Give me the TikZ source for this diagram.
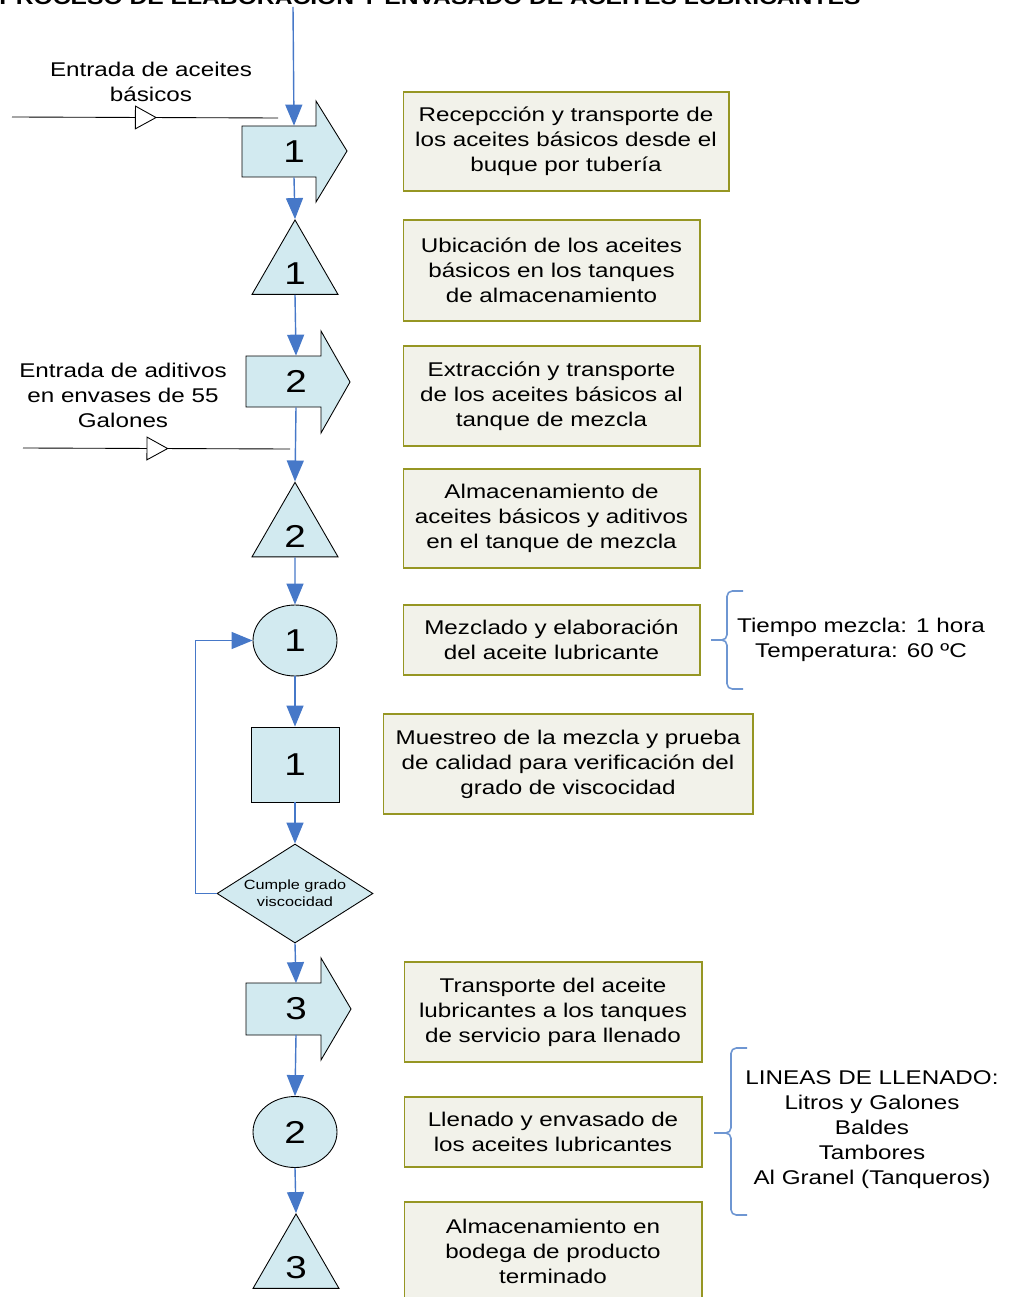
\documentclass[tikz,border=0pt]{standalone}
\usepackage{fontspec}
\setmainfont{Liberation Sans}[FakeStretch=1.22]
\usepackage{tikz}
\usetikzlibrary{shapes.geometric,arrows.meta,decorations.markings}
\usepackage{xcolor}
\definecolor{symbolfill}{RGB}{210,234,240}
\definecolor{flowblue}{RGB}{70,120,200}
\definecolor{boxfill}{RGB}{242,242,234}
\definecolor{boxline}{RGB}{150,150,35}
\definecolor{bracecol}{RGB}{110,150,210}
\pgfkeys{tikz/symbol/.style={draw=black,fill=symbolfill,line width=0.5pt,inner sep=0pt,font=\fontsize{18}{20}\selectfont}}
\pgfkeys{tikz/storage/.style={symbol,regular polygon,regular polygon sides=3,minimum size=1.986cm,text height=17.4pt}}
\pgfkeys{tikz/arrowlabel/.style={inner sep=0pt,font=\fontsize{18}{20}\selectfont,minimum width=2.1cm,minimum height=1.02cm}}
\pgfkeys{tikz/flow/.style={draw=flowblue,line width=0.8pt,-{Triangle[length=0.42cm,width=0.34cm]}}}
\pgfkeys{tikz/procbox/.style={draw=boxline,fill=boxfill,line width=0.6pt,align=center,inner sep=0pt,minimum width=5.94cm,font=\fontsize{11.3}{14.2}\selectfont}}
\pgfkeys{tikz/sidetext/.style={align=center,inner sep=0pt,font=\fontsize{11.3}{14.2}\selectfont}}
\pgfkeys{tikz/inflow/.style={draw=black,line width=0.5pt,decoration={markings,mark=at position 0.545 with {\arrow{Triangle[length=0.44cm,width=0.48cm,fill=white,line width=0.5pt]}}},postaction={decorate}}}
\pgfkeys{tikz/bracket/.style={draw=bracecol,line width=0.9pt,rounded corners=3pt}}

\begin{document}
\begin{tikzpicture}[x=0.02cm,y=-0.02cm]

	\useasboundingbox (0,0) rectangle (1013,1297);

	\node[font=\bfseries\fontsize{11.5}{13}\selectfont, anchor=base] (title) at (430,5) {PROCESO DE ELABORACIÓN Y ENVASADO DE ACEITES LUBRICANTES};

	% block arrows (transporte)
	\draw[symbol] (242,126) -- (316,126) -- (316,101) -- (347,151) -- (316,202) -- (316,177) -- (242,177) -- cycle;
	\node[arrowlabel] (p1) at (294,151.5) {1};

	\draw[symbol] (246,356) -- (321,356) -- (321,331) -- (350,382) -- (321,433) -- (321,407) -- (246,407) -- cycle;
	\node[arrowlabel] (p2) at (296,381.5) {2};

	\draw[symbol] (246,983) -- (321,983) -- (321,958) -- (351,1009) -- (321,1060) -- (321,1035) -- (246,1035) -- cycle;
	\node[arrowlabel] (p3) at (296,1009) {3};

	% storage, operation, inspection, decision
	\node[storage] (t1) at (295,269.6) {1};
	\node[storage] (t2) at (295,532) {2};
	\node[storage] (t3) at (296,1263.6) {3};

	\node[symbol, ellipse, minimum width=1.68cm, minimum height=1.42cm] (c1) at (295,640.5) {1};
	\node[symbol, ellipse, minimum width=1.68cm, minimum height=1.42cm] (c2) at (295,1132) {2};

	\node[symbol, rectangle, minimum width=1.76cm, minimum height=1.5cm] (s1) at (295,764.5) {1};

	\node[symbol, diamond, aspect=1.57, minimum width=3.12cm, minimum height=1.98cm, font=\fontsize{7.6}{9.7}\selectfont, align=center] (d1) at (295,893.5) {Cumple grado\\viscocidad};

	% inputs
	\coordinate (in1) at (12,117);
	\coordinate (in1e) at (278,118);
	\coordinate (in2) at (23,448);
	\coordinate (in2e) at (290,449);
	\draw[inflow] (in1) -- (in1e);
	\draw[inflow] (in2) -- (in2e);
	\node[sidetext] (lin1) at (151,82) {Entrada de aceites\\básicos};
	\node[sidetext] (lin2) at (123,395) {Entrada de aditivos\\en envases de 55\\Galones};

	% flow
	\coordinate (top) at (293,7);
	\draw[flow] (top) -- (p1.north);
	\draw[flow] (p1.south) -- (t1.north);
	\draw[flow] (t1.south) -- (p2.north);
	\draw[flow] (p2.south) -- (t2.north);
	\draw[flow] (t2.south) -- (c1.north);
	\draw[flow] (c1.south) -- (s1.north);
	\draw[flow] (s1.south) -- (d1.north);
	\draw[flow] (d1.west) -- ++(-21,0) |- (c1.west);
	\draw[flow] (d1.south) -- (p3.north);
	\draw[flow] (p3.south) -- (c2.north);
	\draw[flow] (c2.south) -- (t3.north);

	% descriptions
	\node[procbox, minimum width=6.52cm, minimum height=1.98cm] (b1) at (566,141.5) {Recepcción y transporte de\\los aceites básicos desde el\\buque por tubería};
	\node[procbox, minimum height=2.02cm] (b2) at (551.5,270.5) {Ubicación de los aceites\\básicos en los tanques\\de almacenamiento};
	\node[procbox, minimum height=2cm] (b3) at (551.5,396) {Extracción y transporte\\de los aceites básicos al\\tanque de mezcla};
	\node[procbox, minimum height=1.98cm] (b4) at (551.5,518.5) {Almacenamiento de\\aceites básicos y aditivos\\en el tanque de mezcla};
	\node[procbox, minimum height=1.4cm] (b5) at (551.5,640) {Mezclado y elaboración\\del aceite lubricante};
	\node[procbox, minimum width=7.4cm, minimum height=2cm] (b6) at (568,764) {Muestreo de la mezcla y prueba\\de calidad para verificación del\\grado de viscocidad};
	\node[procbox, minimum width=5.96cm, minimum height=2cm] (b7) at (553,1012) {Transporte del aceite\\lubricantes a los tanques\\de servicio para llenado};
	\node[procbox, minimum width=5.96cm, minimum height=1.4cm] (b8) at (553,1132) {Llenado y envasado de\\los aceites lubricantes};
	\node[procbox, minimum width=5.96cm, minimum height=1.96cm] (b9) at (553,1251) {Almacenamiento en\\bodega de producto\\terminado};

	% notes
	\node[sidetext] (n1) at (861,640) {Tiempo mezcla: 1 hora\\Temperatura: 60 ºC};
	\node[sidetext] (n2) at (872,1130) {LINEAS DE LLENADO:\\Litros y Galones\\Baldes\\Tambores\\Al Granel (Tanqueros)};
	\draw[bracket] (743,591) -| (727,640) -- (711,640) (711,640) -- (727,640) |- (743,689);
	\draw[bracket] (747,1048) -| (731,1133) -- (714,1133) (714,1133) -- (731,1133) |- (747,1215);

\end{tikzpicture}
\end{document}
